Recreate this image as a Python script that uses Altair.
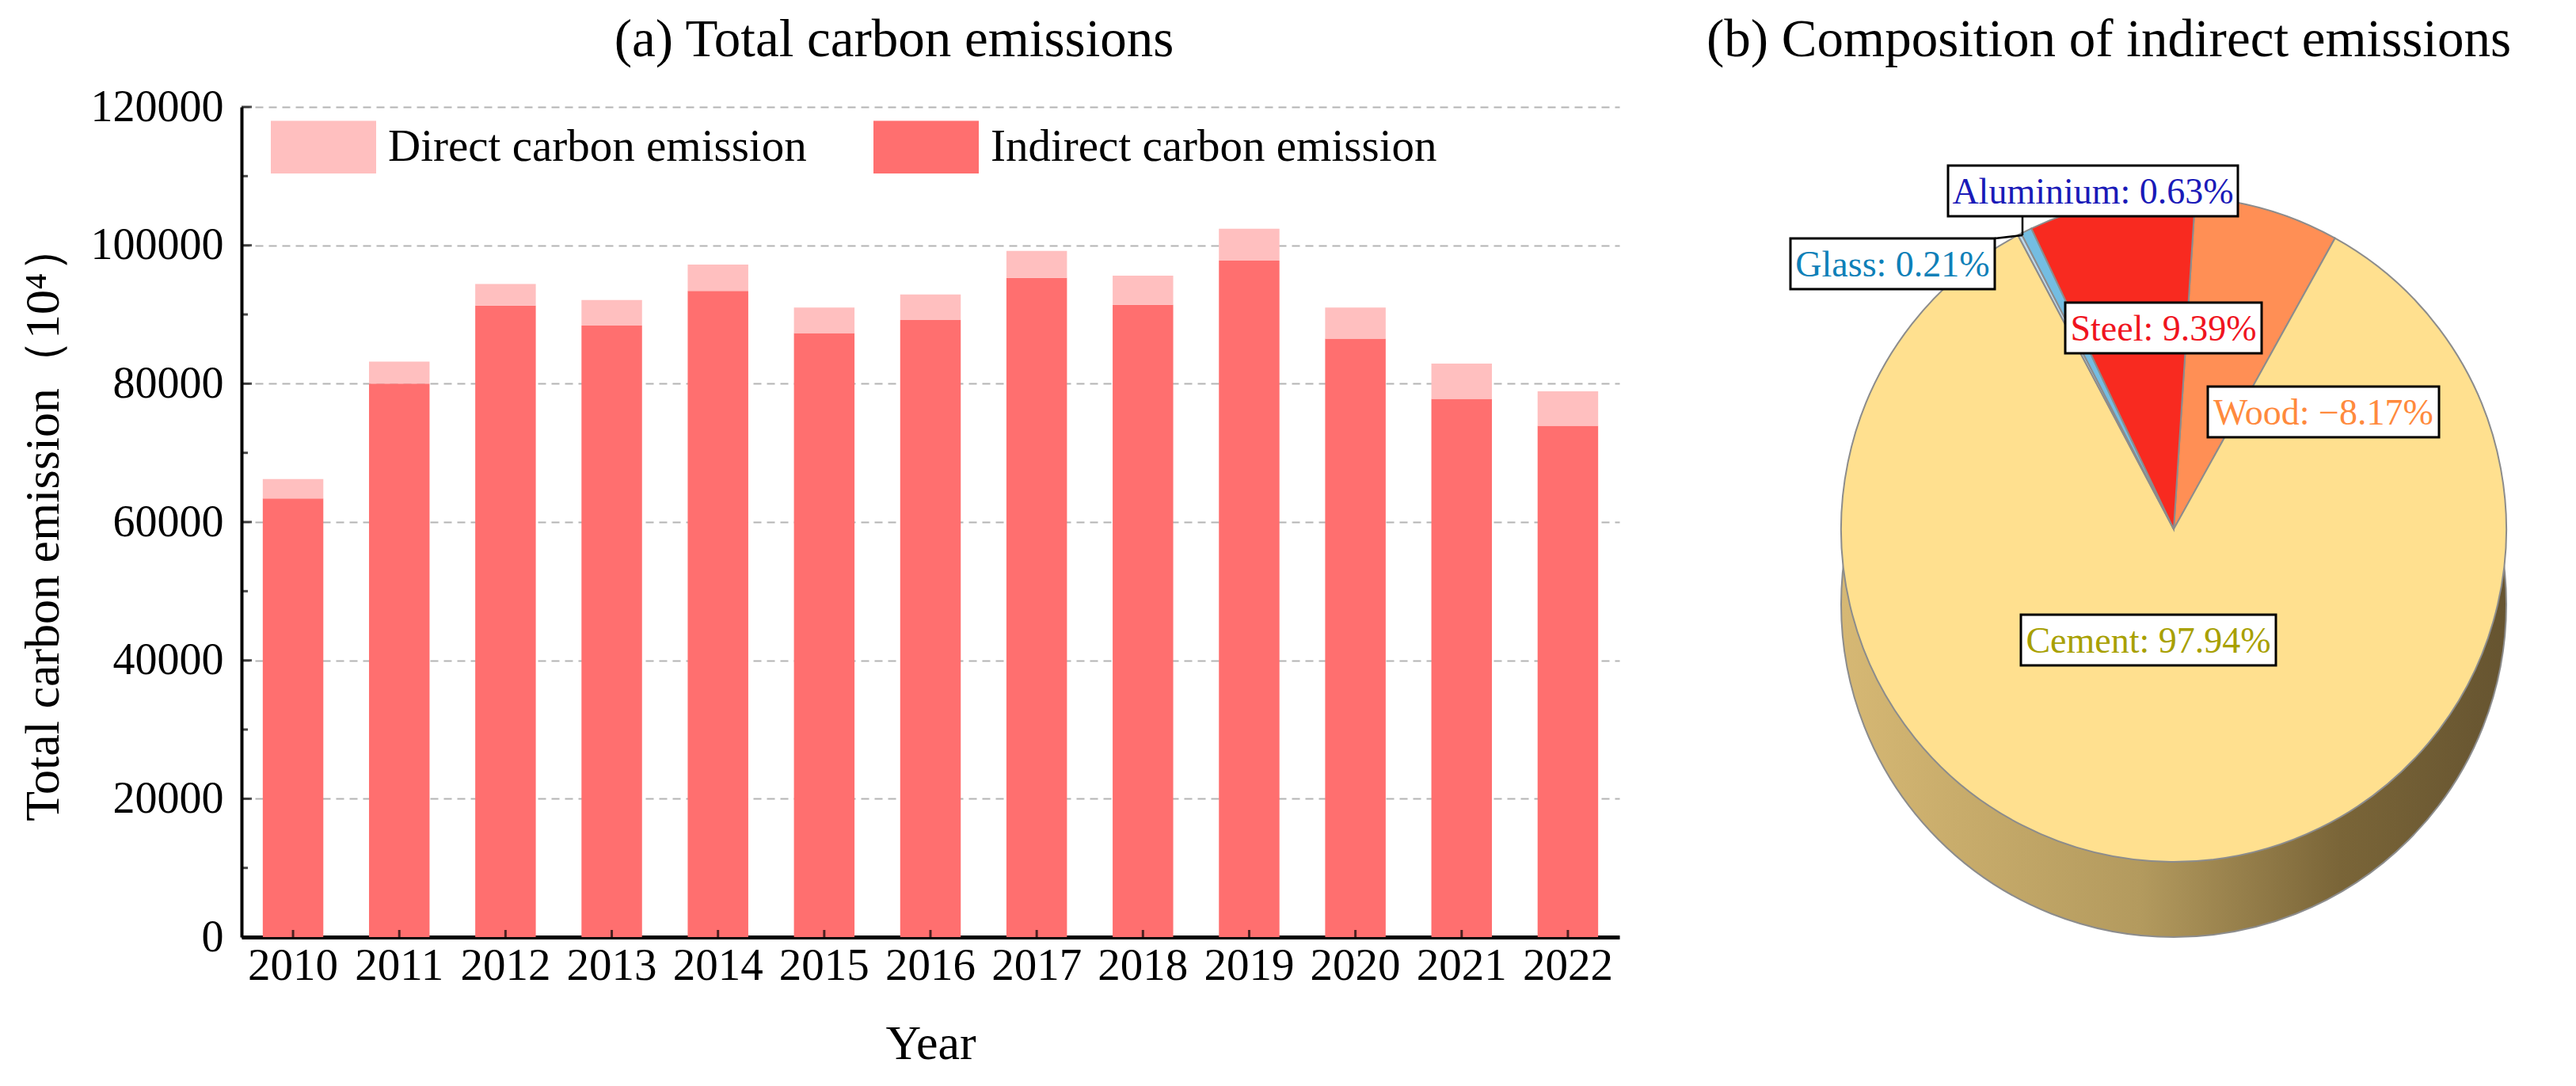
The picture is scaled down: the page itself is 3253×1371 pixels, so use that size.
import math
import pandas as pd
import altair as alt

FONT = "Liberation Serif"

# (a) bar chart data
years = [str(y) for y in range(2010, 2023)]
indirect = [63400, 80000, 91300, 88400, 93400, 87300, 89200, 95300, 91400, 97800, 86500, 77800, 73900]
direct = [2800, 3200, 3100, 3700, 3800, 3700, 3700, 3900, 4200, 4600, 4500, 5100, 5000]
series = ["Direct carbon emission", "Indirect carbon emission"]
series_colors = ["#FFBFBF", "#FF6F6F"]
y_major = [0, 20000, 40000, 60000, 80000, 100000, 120000]
y_minor = [10000, 30000, 50000, 70000, 90000, 110000]

# (b) pie data, clockwise from 12 o'clock
materials = ["Wood", "Cement", "Glass", "Aluminium", "Steel"]
shares = [-8.17, 97.94, 0.21, 0.63, 9.39]
slice_colors = ["#FF8F55", "#FFE08F", "#BDD8EC", "#74BDE2", "#F82A20"]
label_colors = ["#FF8A3D", "#A8A000", "#0E80B8", "#1A1AB8", "#F0141E"]

bars_df = pd.DataFrame({
    "year": years * 2,
    "series": [series[1]] * len(years) + [series[0]] * len(years),
    "value": indirect + direct,
    "stack_idx": [0] * len(years) + [1] * len(years),
})

W1, H1 = 1740, 1048
Y_TITLE = "Total carbon emission（10⁴）"

x_axis = alt.Axis(title="Year", labelAngle=0, labelFontSize=57, labelPadding=8,
                  ticks=False, tickSize=0, grid=False, domainColor="black", domainWidth=5,
                  labelColor="black", titleColor="black",
                  titleFontSize=62, titleFontWeight="normal", titlePadding=40)
y_axis = alt.Axis(title=Y_TITLE, values=y_major, format="d",
                  labelFontSize=56, labelPadding=23, ticks=False, tickSize=0,
                  domainColor="black", domainWidth=4, labelColor="black",
                  titleColor="black", titleFontSize=62, titleFontWeight="normal",
                  titlePadding=28, grid=True, gridDash=[10, 7],
                  gridColor="#B4B4B4", gridWidth=2)
y_scale = alt.Scale(domain=[0, 120000], nice=False)

bars = alt.Chart(bars_df).mark_bar().encode(
    x=alt.X("year:N", scale=alt.Scale(paddingInner=0.43, paddingOuter=0.2), axis=x_axis),
    y=alt.Y("value:Q", stack="zero", scale=y_scale, axis=y_axis),
    color=alt.Color("series:N", scale=alt.Scale(domain=series, range=series_colors),
                    legend=alt.Legend(title=None, orient="none", legendX=37, legendY=-16,
                                      direction="horizontal", symbolType="M-1,-0.5H1V0.5H-1Z",
                                      symbolSize=17689, symbolStrokeWidth=0, symbolOpacity=1,
                                      labelFontSize=57, labelFont=FONT, labelColor="black",
                                      labelLimit=0, labelOffset=15, columnPadding=84)),
    order=alt.Order("stack_idx:Q", sort="ascending"),
)

# inward ticks
ymaj = alt.Chart(pd.DataFrame({"v": y_major})).mark_tick(
    orient="horizontal", size=13, thickness=3, color="black"
).encode(y=alt.Y("v:Q", scale=y_scale, axis=y_axis), x=alt.value(6.5))
ymin = alt.Chart(pd.DataFrame({"v": y_minor})).mark_tick(
    orient="horizontal", size=8, thickness=3, color="black"
).encode(y=alt.Y("v:Q", scale=y_scale, axis=y_axis), x=alt.value(4))
xt = alt.Chart(pd.DataFrame({"year": years})).mark_tick(
    orient="vertical", size=9, thickness=3, color="black"
).encode(x=alt.X("year:N", axis=x_axis), y=alt.value(H1 - 4.5))

left = alt.layer(bars, ymaj, ymin, xt).properties(
    width=W1, height=H1,
    title=alt.TitleParams("(a) Total carbon emissions", fontSize=67, fontWeight="normal",
                          font=FONT, baseline="alphabetic", anchor="middle", frame="group",
                          dx=-46, offset=-31, color="black"),
)

# ---- pie panel ----
W2, H2 = 1090, 1048
PX0, PY0 = 2140, 139          # page position of the panel's plot area
CX, CY, R, DEPTH = 2745 - PX0, 672 - PY0, 420, 95

pie_df = pd.DataFrame({"material": materials, "share": shares, "idx": list(range(len(materials)))})
pie_df["label"] = [f"{m}: {s:.2f}%".replace("-", "\u2212") for m, s in zip(materials, shares)]

side = alt.Chart(pd.DataFrame({"part": ["side"]})).mark_arc(
    radius=R, stroke="#8C8C8C", strokeWidth=2,
    color=alt.Gradient(gradient="linear", x1=0, x2=1, y1=0, y2=0, stops=[
        alt.GradientStop(offset=0, color="#D6B874"),
        alt.GradientStop(offset=0.45, color="#B39A5E"),
        alt.GradientStop(offset=0.75, color="#7A6538"),
        alt.GradientStop(offset=1, color="#665430"),
    ]),
).encode(theta=alt.value(0), theta2=alt.value(2 * math.pi),
         x=alt.value(CX), y=alt.value(CY + DEPTH))

start = 0.065
slices = alt.Chart(pie_df).transform_calculate(size="abs(datum.share)").mark_arc(
    radius=R, stroke="#8C8C8C", strokeWidth=2
).encode(
    theta=alt.Theta("size:Q", stack=True, scale=alt.Scale(range=[start, start + 2 * math.pi])),
    color=alt.Color("material:N", scale=alt.Scale(domain=materials, range=slice_colors), legend=None),
    order=alt.Order("idx:Q", sort="ascending"),
    x=alt.value(CX), y=alt.value(CY),
)

# label boxes: page centre x, centre y, half width
label_pos = {
    "Steel": (2732, 418, 124),
    "Wood": (2934, 524, 146),
    "Cement": (2713, 812, 161),
    "Aluminium": (2643, 245, 183),
    "Glass": (2390, 337, 129),
}
label_layers = []
for m, c in zip(materials, label_colors):
    cx, cy, hw = label_pos[m]
    cx, cy = cx - PX0, cy - PY0
    one = alt.Chart(pie_df).transform_filter(alt.datum.material == m)
    label_layers.append(one.mark_rect(fill="white", stroke="black", strokeWidth=3).encode(
        x=alt.value(cx - hw), x2=alt.value(cx + hw), y=alt.value(cy - 32), y2=alt.value(cy + 32)))
    label_layers.append(one.mark_text(font=FONT, fontSize=46, color=c, align="center",
                                      baseline="middle").encode(
        text="label:N", x=alt.value(cx), y=alt.value(cy + 2)))

leader = alt.Chart(pd.DataFrame({"part": ["a", "g"]}))
leaders = [
    leader.transform_filter(alt.datum.part == "a").mark_rule(color="black", strokeWidth=2.5).encode(
        x=alt.value(2554 - PX0), x2=alt.value(2554 - PX0), y=alt.value(277 - PY0), y2=alt.value(301 - PY0)),
    leader.transform_filter(alt.datum.part == "g").mark_rule(color="black", strokeWidth=2.5).encode(
        x=alt.value(2519 - PX0), x2=alt.value(2554 - PX0), y=alt.value(305 - PY0), y2=alt.value(301 - PY0)),
]

right = alt.layer(side, slices, *leaders, *label_layers).properties(
    width=W2, height=H2,
    title=alt.TitleParams("(b) Composition of indirect emissions", fontSize=67, fontWeight="normal",
                          font=FONT, baseline="alphabetic", anchor="middle", frame="group",
                          dx=-22, offset=-3, color="black"),
)

chart = alt.hconcat(left, right, spacing=95).resolve_scale(color="independent").properties(
    padding={"left": 15, "top": 9, "right": 0, "bottom": 0}
).configure(font=FONT).configure_view(strokeWidth=0)

chart.save("out.html", embed_options={"renderer": "svg", "actions": False})
